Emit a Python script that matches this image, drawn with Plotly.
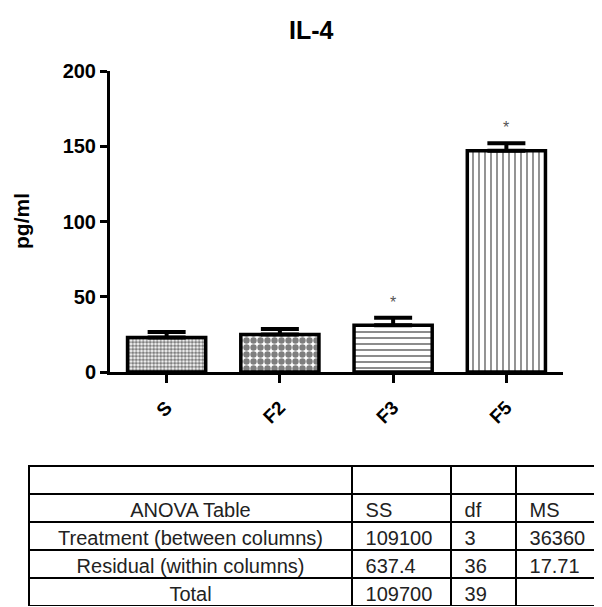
import plotly.graph_objects as go

# ---- data ----
groups = ["S", "F2", "F3", "F5"]
means = [23, 25, 31, 147]
sem = [3.5, 3.5, 5, 5]
significant = [False, False, True, True]
pattern_shapes = [".", ".", "-", "|"]
pattern_sizes = [3.5, 7, 6, 6]
pattern_solid = [0.65, 0.65, 0.3, 0.28]

y_ticks = [0, 50, 100, 150, 200]

anova_labels = ["", "ANOVA Table", "Treatment (between columns)", "Residual (within columns)", "Total"]
anova_ss = ["", "SS", "109100", "637.4", "109700"]
anova_df = ["", "df", "3", "36", "39"]
anova_ms = ["", "MS", "36360", "17.71", ""]

# page has an 8px body margin: figure occupies screen px 8..602 / 8..607
OFF = 8
W, H = 602 - OFF, 607 - OFF
FONT = "Liberation Sans, Arial, sans-serif"


def px(x):
    return (x - OFF) / W


def py(y):
    return 1 - (y - OFF) / H


def pad(v):
    return "\u00a0" + v if v else v


fig = go.Figure()
fig.add_trace(go.Bar(
    x=groups, y=means, width=0.69,
    marker=dict(
        color="white",
        line=dict(color="black", width=3.5),
        pattern=dict(shape=pattern_shapes, size=pattern_sizes, solidity=pattern_solid,
                     fgcolor="black", bgcolor="white", fillmode="overlay"),
    ),
    error_y=dict(type="data", array=sem, symmetric=False, arrayminus=[0] * len(sem),
                 color="black", thickness=4, width=19),
    showlegend=False, hoverinfo="skip",
))

for g, m, e, s in zip(groups, means, sem, significant):
    if s:
        fig.add_annotation(x=g, y=m + e, xref="x", yref="y", text="*", showarrow=False,
                           yanchor="bottom", yshift=5, font=dict(family=FONT, size=16, color="#555"))

fig.add_trace(go.Table(
    domain=dict(x=[px(29), 1.0], y=[0, py(466)]),
    columnwidth=[323, 99, 65, 86],
    header=dict(values=["", "", "", ""], height=28, fill_color="white",
                line=dict(color="black", width=2)),
    cells=dict(
        values=[anova_labels[1:],
                [pad(v) for v in anova_ss[1:]],
                [pad(v) for v in anova_df[1:]],
                [pad(v) for v in anova_ms[1:]]],
        height=28, fill_color="white",
        align=["center", "left", "left", "left"],
        line=dict(color="black", width=1.5),
        font=dict(family=FONT, size=20, color="#222"),
    ),
))

fig.add_annotation(x=px(311), y=py(30), xref="paper", yref="paper", text="<b>IL-4</b>",
                   xanchor="center", yanchor="middle",
                   showarrow=False, font=dict(family=FONT, size=25, color="black"))
fig.add_annotation(x=px(21), y=py(221), xref="paper", yref="paper", text="<b>pg/ml</b>",
                   xanchor="center", yanchor="middle",
                   textangle=-90, showarrow=False, font=dict(family=FONT, size=21, color="black"))

fig.update_layout(
    width=W, height=H, margin=dict(l=0, r=0, t=0, b=0, autoexpand=False),
    paper_bgcolor="white", plot_bgcolor="white",
    xaxis=dict(domain=[px(110), px(563)], range=[-0.5, 3.5], showline=True, linecolor="black",
               linewidth=3, ticks="outside", ticklen=8, tickwidth=3, tickcolor="black",
               tickangle=-45, showgrid=False, zeroline=False, automargin=False,
               ticklabelstandoff=6,
               tickfont=dict(family=FONT, size=19, color="black", weight="bold")),
    yaxis=dict(domain=[py(372), py(71)], range=[0, 200], tickvals=y_ticks,
               showline=True, linecolor="black", linewidth=3, ticks="outside", ticklen=7,
               tickwidth=3, tickcolor="black", showgrid=False, zeroline=False, automargin=False,
               tickfont=dict(family=FONT, size=20, color="black", weight="bold")),
    bargap=0.31,
)

fig.write_html("out.html")
